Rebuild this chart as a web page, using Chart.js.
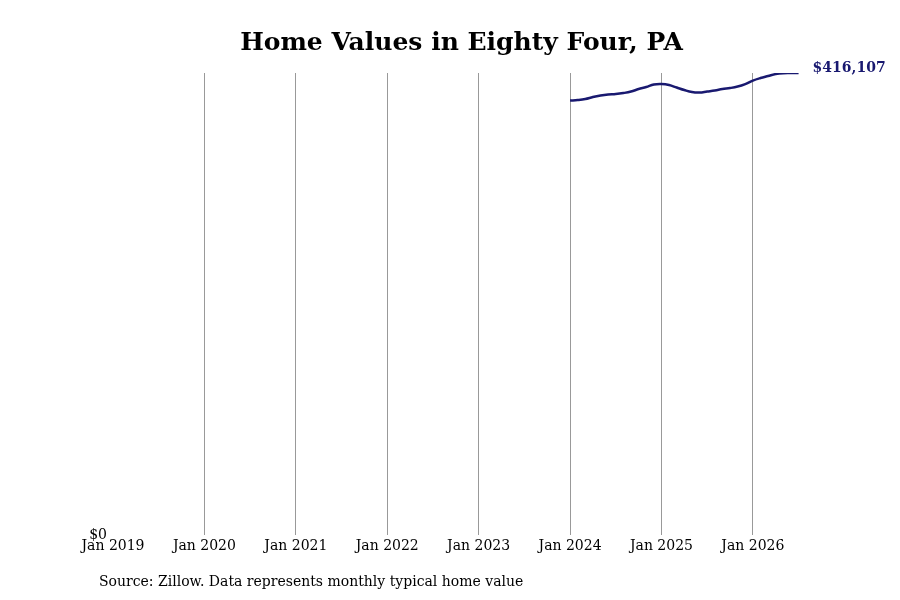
<!DOCTYPE html>
<html>
<head>
<meta charset="utf-8">
<script src="https://cdn.jsdelivr.net/npm/chart.js@4/dist/chart.umd.min.js"></script>
<style>
  html, body { margin: 0; padding: 0; background: #fff; }
  #wrap { width: 900px; height: 600px; }
</style>
</head>
<body>
<div id="wrap"><canvas id="chart"></canvas></div>
<script>
// Months counted from Jan 2019 (0). Data runs Jan 2024 .. Jul 2026.
var startMonth = 60;
var homeValues = [
	391300, 391750, 392650, 394450, 395800, 396700, 397150, 398050, 399400, 401650, 403450, 405700,
	406150, 405250, 403000, 400750, 398950, 398500, 399400, 400300, 401650, 402550, 403900, 406150,
	409300, 411550, 413350, 415150, 415950, 416050, 416107
];
var tickYears = [ 2019, 2020, 2021, 2022, 2023, 2024, 2025, 2026 ];
var titleText = 'Home Values in Eighty Four, PA';
var sourceText = 'Source: Zillow. Data represents monthly typical home value';

var points = homeValues.map( function ( v, i ) { return { x: startMonth + i, y: v }; } );
var maxValue = Math.max.apply( null, homeValues );
var lastValue = homeValues[ homeValues.length - 1 ];

function money( v ) {
	return '$' + Math.round( v ).toLocaleString( 'en-US' );
}

var serif = '"DejaVu Serif", serif';

var annotations = {
	id: 'annotations',
	afterDraw: function ( chart ) {
		var c = chart.ctx;
		var area = chart.chartArea;
		c.save();
		c.fillStyle = '#000';
		c.font = 'bold 25px ' + serif;
		c.textAlign = 'center';
		c.textBaseline = 'middle';
		c.fillText( titleText, ( area.left + area.right ) / 2, 43 );

		c.font = '14px ' + serif;
		c.textAlign = 'left';
		c.fillText( sourceText, 99, 582 );

		var xs = chart.scales.x, ys = chart.scales.y;
		var lastX = xs.getPixelForValue( startMonth + homeValues.length - 1 );
		c.fillStyle = '#191970';
		c.font = 'bold 14px ' + serif;
		c.fillText( money( lastValue ), lastX + 14, ys.getPixelForValue( lastValue ) - 5 );
		c.restore();
	}
};

new Chart( document.getElementById( 'chart' ), {
	type: 'line',
	data: {
		datasets: [ {
			data: points,
			borderColor: '#191970',
			borderWidth: 2.5,
			pointRadius: 0,
			tension: 0.4,
			fill: false
		} ]
	},
	options: {
		responsive: true,
		maintainAspectRatio: false,
		animation: false,
		layout: { padding: { top: 73, left: 63, right: 90, bottom: 42 } },
		plugins: { legend: { display: false }, tooltip: { enabled: false } },
		scales: {
			x: {
				type: 'linear',
				min: 0,
				max: 91.5,
				afterBuildTicks: function ( scale ) {
					scale.ticks = tickYears.map( function ( y ) { return { value: ( y - 2019 ) * 12 }; } );
				},
				ticks: {
					color: '#000',
					font: { family: serif, size: 14 },
					padding: 3,
					maxRotation: 0,
					autoSkip: false,
					callback: function ( v ) { return 'Jan ' + ( 2019 + v / 12 ); }
				},
				grid: {
					color: function ( ctx ) { return ctx.tick && ctx.tick.value === 0 ? 'rgba(0,0,0,0)' : '#999'; },
					lineWidth: 1,
					drawTicks: false
				},
				border: { display: false }
			},
			y: {
				min: 0,
				max: maxValue,
				afterBuildTicks: function ( scale ) { scale.ticks = [ { value: 0 } ]; },
				afterFit: function ( scale ) { scale.width = 50; },
				ticks: {
					color: '#000',
					font: { family: serif, size: 14 },
					padding: -2,
					callback: function ( v ) { return money( v ); }
				},
				grid: { display: false },
				border: { display: false }
			}
		}
	},
	plugins: [ annotations ]
} );
</script>
</body>
</html>
